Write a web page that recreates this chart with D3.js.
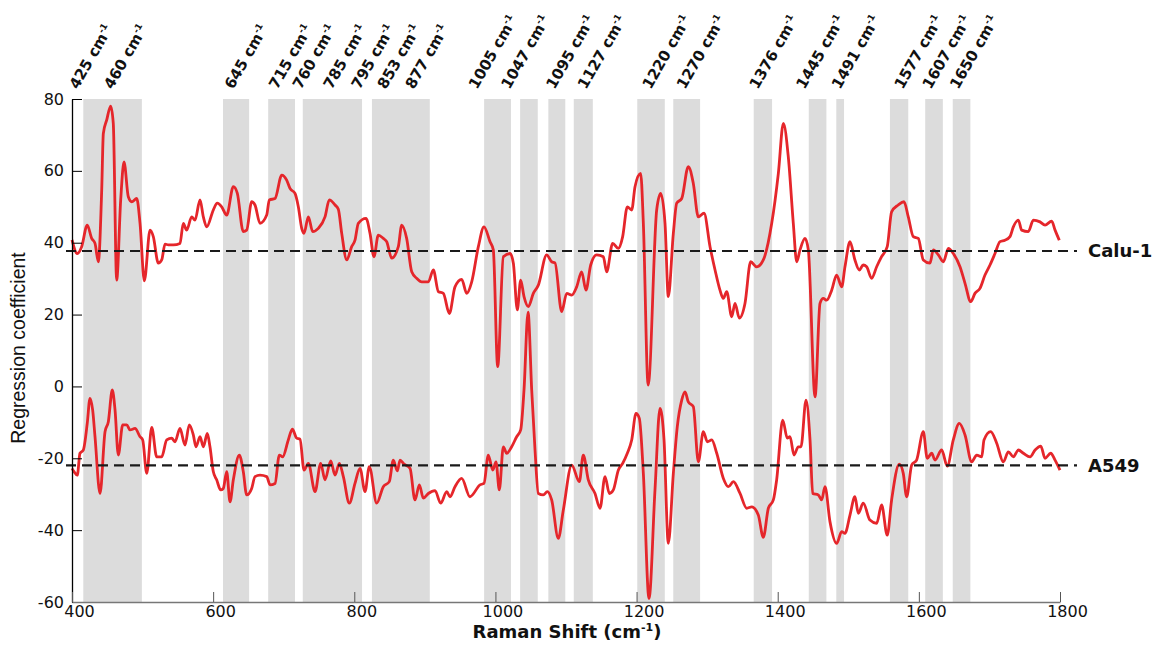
<!DOCTYPE html>
<html>
<head>
<meta charset="utf-8">
<script src="https://cdn.jsdelivr.net/npm/d3@7"></script>
<style>
  body { margin: 0; background: #fff; }
  text { font-family: "DejaVu Sans", sans-serif; fill: #111; }
</style>
</head>
<body>
<div id="chart"></div>
<script>
// Calu-1 regression coefficients (Raman shift, coefficient)
var caluX = [400,407.5,413.7,421.6,427.9,432.6,437.3,442.1,444.4,449.1,454.8,458.5,463.3,469,473.7,479.8,484.6,491.7,496.4,502.5,510.6,515.2,522.3,527.1,531.8,536.5,543.6,553,557.7,562.5,569.6,574.3,581.4,586.1,590.9,600.2,605.9,612.1,619.2,628.6,634.2,642.7,647.5,654.6,659.3,666.4,675.9,679.6,687.7,697.2,704.2,708.9,716,720.7,725.5,728.8,734.9,741.1,749,758.5,764.6,772.7,777.4,782.2,789.3,796.3,801,805.7,816.6,822.3,827.9,834,841.1,845.9,853,862.4,867.2,874.2,881.4,888.4,895.5,904.9,912,919.1,926.2,934.7,942.7,952.2,959.3,966.4,975.8,983.8,992.3,997,1003.2,1011.2,1020.7,1025.4,1031,1035.8,1040.5,1046.6,1053.7,1060.8,1072.6,1079.7,1084.4,1093.9,1101,1108.1,1115.1,1122.2,1128.3,1135,1143.5,1152.9,1157.6,1166.1,1174.1,1180.3,1186.9,1193.1,1197.8,1205.8,1209.6,1216.4,1228.5,1234.2,1240.3,1245,1252.1,1256.9,1264,1273.3,1280.4,1287.5,1295.6,1304.1,1311.2,1318.2,1322.9,1327.7,1334.8,1339.5,1345.6,1353.6,1361.7,1370.2,1379.6,1391.5,1400.9,1408,1415,1422.1,1426.9,1431.6,1438.7,1443.4,1452.9,1459.9,1464.6,1469.4,1476.5,1483.5,1490.6,1495.3,1502.4,1509.4,1515.6,1521.2,1526,1533.1,1540.2,1547.2,1555.2,1561.4,1570.8,1578.9,1585,1592.1,1599.2,1606.3,1615.8,1620.5,1627.6,1634.7,1641.8,1648.8,1658.3,1665.4,1673.5,1679.5,1686.6,1693.7,1700.8,1707.9,1715,1722,1729.1,1733.9,1741,1745.7,1755.1,1762.2,1771.7,1778.8,1788.2,1793,1799];
var caluY = [40.8,37,38.9,44.9,41.2,39.8,34.7,54.7,70.4,74.1,78,73.2,29.6,51.9,62.5,52.8,51.4,52.3,45.4,29.4,43.5,41.7,34.3,35.2,39.6,39.4,39.4,39.8,45.4,43.5,47.2,46.3,51.9,47.2,44.4,49.1,51,50,47.7,55.6,53.8,43.1,43.5,51.4,50.5,45.4,47.7,51.9,52.3,58.8,57.4,55.1,53.7,50,44,42.6,47.2,43.1,44,47.2,51.9,50.5,49.3,42.6,35.2,38.9,40.7,45.4,46.8,42.6,36.1,42.1,41.2,40.3,35.7,38.9,44.9,41.2,31.9,30.1,29.1,29.1,32.4,26.4,25.9,20.3,27.7,29.8,25.9,29.1,38.9,44.4,40.3,38,5.5,36.1,37,34.3,21.3,29.6,25,22.2,25.9,28.2,36.6,34.7,34.4,20.8,25.9,25.4,27.7,31.9,26.8,33.8,36.6,36.1,31.9,39.8,38.4,41.7,50,49.1,55.6,59.3,45.4,0.4,49.1,53.7,45.4,25,42.6,51,52.3,61.2,56.5,47.2,48.2,38.9,32.4,26.8,24.5,26.4,19.4,23.1,19,23.1,34.7,33.3,35.2,45.4,59.3,73.2,63.9,45.4,34.7,38,41.2,38,-2.9,23.1,24.5,24,26.8,31,27.7,33.3,40.3,35.2,32.4,33.8,33.3,30.1,33.3,36.1,38.9,48.6,50.5,51.4,47.2,41.7,41.2,35.2,34.3,38,36.6,34.7,38.4,37,33.3,28.7,23.6,25.9,27.3,31,33.8,37,40.3,40.7,41.7,44.4,46.3,43.5,43.1,46.3,45.8,44.9,46,43.5,40.7];

// A549 regression coefficients
var a549X = [400,402.8,407.5,411.3,416,421.6,425.5,429.3,432.6,439.7,446.8,451.5,457.1,461,465.6,471.9,477.5,482.2,489.3,496.4,500.2,505.9,513,520,527.1,534.2,541.3,545.9,553,560.1,566.2,571.9,575.7,581.4,586.1,591.7,595.5,600.2,605,610.7,614.4,619.2,623.9,628.6,637.1,642.7,647.5,654.6,659.3,666.4,675.9,680.6,687.7,693.8,698.5,706.5,712.2,718.4,723.1,728.8,734.9,744.4,752.4,758.5,766.6,772.7,778.8,784.5,793,801,808.1,815.2,821.3,831.8,841.1,849.6,855.3,861,864.8,870.5,879,886,892.2,897.8,904.9,914.4,922.4,931,935.6,942.7,952.2,963.9,978.2,983.8,989.9,996.2,1000.8,1005.5,1011.2,1015.9,1023,1030.1,1035.8,1040.5,1046.2,1051.4,1056.1,1060.8,1067.8,1073.5,1079.7,1089.1,1096.2,1108.1,1118.9,1124.5,1131.6,1141.1,1148.2,1155.3,1161.4,1167.1,1174.1,1180.3,1186.9,1193.1,1199.2,1203.9,1209.6,1217.6,1226.1,1233.2,1238.9,1245,1252.1,1257.7,1264,1268.7,1273.3,1280.4,1287.5,1294.6,1300.3,1306.5,1313.6,1323,1330.1,1337.2,1346.6,1356.1,1363.2,1372.5,1379.6,1386.7,1393.8,1398.5,1407.1,1413.6,1417.4,1423.1,1429.1,1433,1440.1,1445.8,1449.6,1457.5,1462.3,1467,1474.1,1483.5,1490.6,1495.3,1502.4,1509.4,1514.2,1521.2,1530.7,1540.2,1547.2,1555.2,1561.4,1572.3,1577.9,1582.7,1589.8,1596.8,1606.3,1611.9,1618.2,1622.9,1632.3,1640.3,1648.8,1657.3,1665.4,1674.9,1682,1689.1,1692.3,1701.8,1710.3,1719.7,1726.8,1733.9,1741,1748.1,1757.6,1764.7,1772.8,1778.8,1786.8,1793,1800];
var a549Y = [-22.8,-23.7,-24.7,-18.6,-17.7,-10.3,-3.3,-6.6,-14,-29.8,-12.6,-9.8,-1,-6.6,-19.1,-10.7,-10.7,-12.1,-11.7,-14,-14.9,-24.2,-11.4,-19.6,-19.6,-14.9,-14.4,-15.4,-11.7,-16.3,-10.7,-13.5,-16.8,-14,-16.8,-13.1,-16.8,-23.7,-26,-28.8,-28.4,-23.7,-32.1,-26,-19.1,-23.7,-30.2,-28.4,-25.1,-24.7,-25.1,-27.4,-27,-19.1,-19.6,-14.9,-11.9,-14.4,-14.7,-23.3,-21.4,-29.3,-21.4,-26,-20.7,-24.7,-21.4,-25.1,-32.5,-27,-22.8,-29.3,-22.3,-32.5,-27.9,-26.5,-20.5,-23.5,-20.5,-21.6,-22.8,-31.6,-27.4,-31.1,-29.8,-29,-32.5,-29.3,-30.7,-27.9,-25.6,-30.7,-27.4,-27,-19.1,-23.3,-21,-28.8,-16.8,-18.6,-16.8,-14,-12.1,-1,20.7,-1,-17.7,-29.8,-30.2,-29.3,-31.6,-42.3,-34.4,-21.9,-26.5,-19.1,-26,-29.8,-33.9,-25.1,-29.8,-28.8,-23.3,-21.4,-18.6,-14.9,-7.5,-8.9,-24.2,-59,-28.8,-6.1,-14.9,-43.7,-24.2,-11.2,-3.8,-1.5,-4.3,-5.6,-21,-12.6,-15.4,-14.9,-18.6,-25.6,-27.9,-26.5,-29.8,-33.9,-33.5,-35.8,-42,-33.9,-31.6,-26,-9.4,-14.4,-14,-19.1,-16.8,-16.8,-3.8,-14.9,-29.8,-30.2,-31.6,-27.9,-37.7,-43.7,-40.4,-40.9,-35.8,-30.7,-35.3,-32.5,-37.2,-38.1,-33,-41.4,-31.6,-21.6,-24.2,-30.7,-21.9,-20.5,-12.6,-20,-18.6,-20.5,-17.7,-22.2,-14.9,-10.3,-13.5,-21,-19.1,-19.6,-14.9,-12.6,-15.8,-21,-18.2,-19.6,-17.7,-18.6,-19.6,-17.7,-16.6,-20,-18.6,-20.5,-23.3];

// reference levels of the two groups
var groupNames = ["Calu-1", "A549"];
var groupLevels = [37.7, -22];

// shaded bands (start, end in cm-1) and the peak labels above them
var bandStart = [416, 614, 678, 727, 825, 984, 1035, 1075, 1111, 1201, 1252, 1366, 1444, 1483, 1559, 1609, 1648];
var bandEnd   = [499, 651, 716, 811, 907, 1022, 1060, 1099, 1138, 1240, 1290, 1392, 1469, 1494, 1585, 1634, 1673];
var peaks = [425, 460, 645, 715, 760, 785, 795, 853, 877, 1005, 1047, 1095, 1127, 1220, 1270, 1376, 1445, 1491, 1577, 1607, 1650];
// pixel nudges so the crowded labels don't overlap
var peakNudge = [-12, -2, -12, -17, -25, -12, 9, -6, 5, -22, -19, -8, 1, 0, -1, -3, -5, -2, 0, 7, 4];

var xTicks = [400, 600, 800, 1000, 1200, 1400, 1600, 1800];
var yTicks = [-60, -40, -20, 0, 20, 40, 60, 80];

var width = 1162, height = 648;

var svg = d3.select("#chart").append("svg")
  .attr("width", width)
  .attr("height", height);

var x = d3.scaleLinear().domain([400, 1800]).range([72, 1060]);
var y = d3.scaleLinear().domain([-60, 80]).range([602, 99]);

// gray bands
svg.append("g").selectAll("rect")
  .data(bandStart)
  .enter().append("rect")
  .attr("x", function(d){ return x(d); })
  .attr("width", function(d, i){ return x(bandEnd[i]) - x(d); })
  .attr("y", y(80))
  .attr("height", y(-60) - y(80))
  .attr("fill", "#dcdcdc");

// curves
var line = d3.line()
  .x(function(d){ return x(d[0]); })
  .y(function(d){ return y(d[1]); })
  .curve(d3.curveMonotoneX);

var series = [d3.zip(caluX, caluY), d3.zip(a549X, a549Y)];

svg.append("g").selectAll("path")
  .data(series)
  .enter().append("path")
  .attr("d", line)
  .attr("fill", "none")
  .attr("stroke", "#e5262b")
  .attr("stroke-width", 2.8)
  .attr("stroke-linejoin", "round");

// dashed group levels + names
var lev = svg.append("g").selectAll("g")
  .data(groupLevels)
  .enter().append("g");

lev.append("line")
  .attr("x1", x(400) - 6)
  .attr("x2", x(1800) + 17)
  .attr("y1", function(d){ return y(d); })
  .attr("y2", function(d){ return y(d); })
  .attr("stroke", "#1a1a1a")
  .attr("stroke-width", 2.2)
  .attr("stroke-dasharray", "10,6");

lev.append("text")
  .attr("x", x(1800) + 28)
  .attr("y", function(d){ return y(d); })
  .attr("dy", "0.36em")
  .style("font-size", "18px")
  .style("font-weight", "bold")
  .text(function(d, i){ return groupNames[i]; });

// axes (plain hyphen minus, no thousands separators)
var plain = function(d){ return String(d); };

var yAxis = svg.append("g")
  .attr("transform", "translate(" + x(400) + ",0)")
  .call(d3.axisLeft(y).tickValues(yTicks).tickFormat(plain).tickSizeInner(-10).tickSizeOuter(0).tickPadding(8));
yAxis.select(".domain").attr("stroke", "#000").attr("stroke-width", 1.3);
yAxis.selectAll(".tick line").attr("stroke", "#000");
yAxis.selectAll("text").style("font-size", "16px").style("font-family", "DejaVu Sans").attr("fill", "#111");

var xAxis = svg.append("g")
  .attr("transform", "translate(0," + y(-60) + ")")
  .call(d3.axisBottom(x).tickValues(xTicks).tickFormat(plain).tickSizeInner(-10).tickSizeOuter(0).tickPadding(4));
xAxis.select(".domain").attr("stroke", "#777").attr("stroke-width", 1.5);
xAxis.selectAll(".tick line").attr("stroke", "#555");
xAxis.selectAll("text").attr("dx", 7).style("font-size", "16px").style("font-family", "DejaVu Sans").attr("fill", "#111");

// axis titles
var xt = svg.append("text")
  .attr("x", 567)
  .attr("y", 638)
  .attr("text-anchor", "middle")
  .style("font-size", "18px")
  .style("font-weight", "bold");
xt.append("tspan").text("Raman Shift (cm");
xt.append("tspan").attr("dy", -7).style("font-size", "11px").text("-1");
xt.append("tspan").attr("dy", 7).text(")");

svg.append("text")
  .attr("transform", "translate(25,348) rotate(-90)")
  .attr("text-anchor", "middle")
  .style("font-family", "'Liberation Sans', Arial, sans-serif")
  .style("font-size", "19.5px")
  .text("Regression coefficient");

// peak labels
var pl = svg.append("g").selectAll("text")
  .data(peaks)
  .enter().append("text")
  .attr("transform", function(d, i){ return "translate(" + (x(d) + peakNudge[i]) + ",90) rotate(-60)"; })
  .style("font-size", "15px")
  .style("font-weight", "bold");
pl.append("tspan").text(function(d){ return d + " cm"; });
pl.append("tspan").attr("dy", -6).style("font-size", "9px").text("-1");
</script>
</body>
</html>
